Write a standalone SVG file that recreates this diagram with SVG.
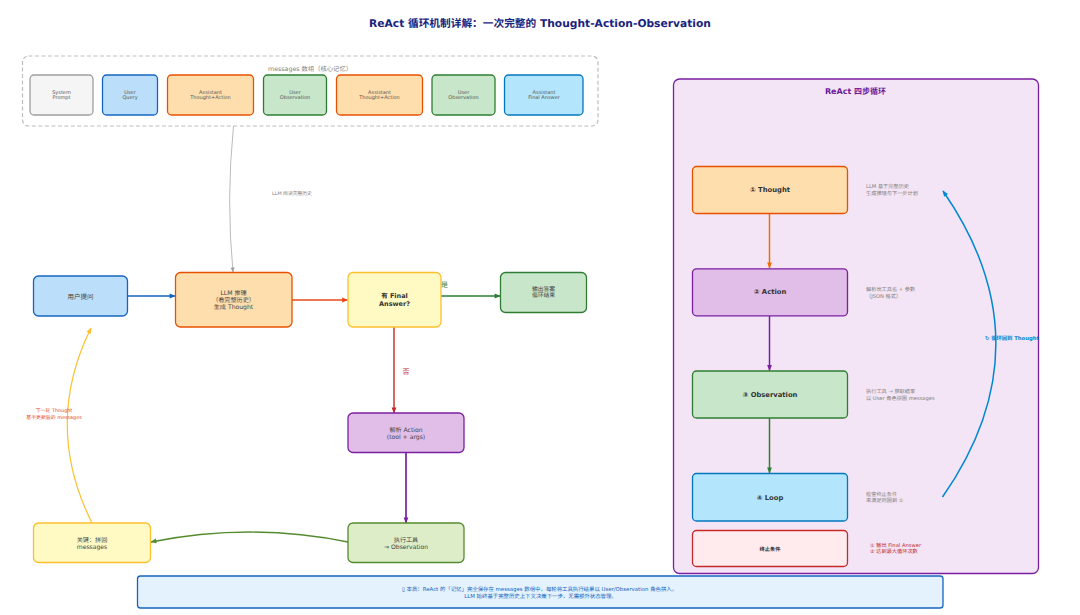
<svg xmlns="http://www.w3.org/2000/svg" width="1080" height="615" viewBox="0 0 1080 615">
<style>
text{font-family:"DejaVu Sans","Noto Sans CJK SC",sans-serif;text-anchor:middle;fill:#333;text-rendering:geometricPrecision}
.n rect{stroke-width:1.3}
.m text{font-size:5px;fill:#555}
.main text{font-size:6.1px;fill:#444}
.step text{font-size:6.8px;font-weight:bold}
.d{font-size:5.2px;fill:#808080;text-anchor:start}
.c path{fill:none}
.or{fill:#ffdead;stroke:#e65100}
.pu{fill:#e1bee7;stroke:#7b1fa2}
.gr{fill:#c8e6c9;stroke:#2e7d32}
.bl{fill:#bbdefb;stroke:#1565c0}
.lb{fill:#b3e5fc;stroke:#0277bd}
.ye{fill:#fff9c4;stroke:#fbc02d}
</style>
<defs>
<marker id="a1" viewBox="0 0 10 10" refX="9" refY="5" markerWidth="7" markerHeight="6" markerUnits="userSpaceOnUse" orient="auto"><path d="M0 1L10 5L0 9z" fill="#1565c0"/></marker>
<marker id="a2" viewBox="0 0 10 10" refX="9" refY="5" markerWidth="7" markerHeight="6" markerUnits="userSpaceOnUse" orient="auto"><path d="M0 1L10 5L0 9z" fill="#e64a19"/></marker>
<marker id="a3" viewBox="0 0 10 10" refX="9" refY="5" markerWidth="7" markerHeight="6" markerUnits="userSpaceOnUse" orient="auto"><path d="M0 1L10 5L0 9z" fill="#2e7d32"/></marker>
<marker id="a4" viewBox="0 0 10 10" refX="9" refY="5" markerWidth="7" markerHeight="6" markerUnits="userSpaceOnUse" orient="auto"><path d="M0 1L10 5L0 9z" fill="#c62828"/></marker>
<marker id="a5" viewBox="0 0 10 10" refX="9" refY="5" markerWidth="7" markerHeight="6" markerUnits="userSpaceOnUse" orient="auto"><path d="M0 1L10 5L0 9z" fill="#7b1fa2"/></marker>
<marker id="a6" viewBox="0 0 10 10" refX="9" refY="5" markerWidth="7" markerHeight="6" markerUnits="userSpaceOnUse" orient="auto"><path d="M0 1L10 5L0 9z" fill="#558b2f"/></marker>
<marker id="a7" viewBox="0 0 10 10" refX="9" refY="5" markerWidth="7" markerHeight="6" markerUnits="userSpaceOnUse" orient="auto"><path d="M0 1L10 5L0 9z" fill="#fbc02d"/></marker>
<marker id="a8" viewBox="0 0 10 10" refX="9" refY="5" markerWidth="7" markerHeight="6" markerUnits="userSpaceOnUse" orient="auto"><path d="M0 1L10 5L0 9z" fill="#0288d1"/></marker>
<marker id="a9" viewBox="0 0 10 10" refX="9" refY="5" markerWidth="6" markerHeight="5" markerUnits="userSpaceOnUse" orient="auto"><path d="M0 1L10 5L0 9z" fill="#9e9e9e"/></marker>
<marker id="a10" viewBox="0 0 10 10" refX="9" refY="5" markerWidth="7" markerHeight="6" markerUnits="userSpaceOnUse" orient="auto"><path d="M0 1L10 5L0 9z" fill="#ef6c00"/></marker>
</defs>
<rect width="1080" height="615" fill="#fff"/>
<text x="540" y="26.5" style="font-size:10.7px;font-weight:bold;fill:#1a237e">ReAct 循环机制详解：一次完整的 Thought-Action-Observation</text>

<g id="messages" class="n">
<rect x="22.5" y="56" width="575.5" height="70" rx="6" fill="#fff" stroke="#bdbdbd" stroke-dasharray="4 2.5" style="stroke-width:1.2"/>
<text x="310" y="70.5" style="font-size:6.3px;fill:#808080">messages 数组（核心记忆）</text>
</g>
<g id="msg1" class="n m"><rect x="30" y="75" width="63" height="40" rx="4" fill="#f5f5f5" stroke="#9e9e9e"/><text x="61.5" y="93.8">System</text><text x="61.5" y="99.3">Prompt</text></g>
<g id="msg2" class="n m"><rect class="bl" x="102.5" y="75" width="55" height="40" rx="4"/><text x="130" y="93.8">User</text><text x="130" y="99.3">Query</text></g>
<g id="msg3" class="n m"><rect class="or" x="167.500" y="75" width="86" height="40" rx="4"/><text x="210.500" y="93.8">Assistant</text><text x="210.500" y="99.3">Thought+Action</text></g>
<g id="msg4" class="n m"><rect class="gr" x="263.500" y="75" width="63" height="40" rx="4"/><text x="295" y="93.8">User</text><text x="295" y="99.3">Observation</text></g>
<g id="msg5" class="n m"><rect class="or" x="336.500" y="75" width="86" height="40" rx="4"/><text x="379.500" y="93.8">Assistant</text><text x="379.500" y="99.3">Thought+Action</text></g>
<g id="msg6" class="n m"><rect class="gr" x="432" y="75" width="63" height="40" rx="4"/><text x="463.500" y="93.8">User</text><text x="463.500" y="99.3">Observation</text></g>
<g id="msg7" class="n m"><rect class="lb" x="504.500" y="75" width="78.500" height="40" rx="4"/><text x="544" y="93.8">Assistant</text><text x="544" y="99.3">Final Answer</text></g>

<g id="panel"><rect x="673.500" y="79" width="365" height="494.500" rx="6" fill="#f3e5f5" stroke="#7b1fa2" stroke-width="1.3"/>
<text x="855.500" y="93.500" style="font-size:8px;font-weight:bold;fill:#6a1b9a">ReAct 四步循环</text></g>

<g id="connectors" class="c">
<path d="M233.500 126Q226 200 233 272" stroke="#9e9e9e" stroke-width=".7" marker-end="url(#a9)"/>
<path d="M127.500 296H175" stroke="#1565c0" stroke-width="1.7" marker-end="url(#a1)"/>
<path d="M292 300H347.500" stroke="#e64a19" stroke-width="1.7" marker-end="url(#a2)"/>
<path d="M441 296H500" stroke="#2e7d32" stroke-width="1.7" marker-end="url(#a3)"/>
<path d="M394 327V413" stroke="#c62828" stroke-width="1.4" marker-end="url(#a4)"/>
<path d="M406 452.500V523" stroke="#7b1fa2" stroke-width="1.7" marker-end="url(#a5)"/>
<path d="M348 542Q250 522 151 542" stroke="#558b2f" stroke-width="1.3" marker-end="url(#a6)"/>
<path d="M92 523Q43 425 91 328" stroke="#fbc02d" stroke-width="1.2" marker-end="url(#a7)"/>
<path d="M769.500 213.500V268" stroke="#ef6c00" stroke-width="1.5" marker-end="url(#a10)"/>
<path d="M769.500 316V370.500" stroke="#7b1fa2" stroke-width="1.5" marker-end="url(#a5)"/>
<path d="M769.500 418V473" stroke="#2e7d32" stroke-width="1.5" marker-end="url(#a3)"/>
<path d="M942.500 497Q1049 344 943 191" stroke="#0288d1" stroke-width="1.5" marker-end="url(#a8)"/>
</g>

<g id="user" class="n main"><rect class="bl" x="33.500" y="276" width="94" height="40" rx="5"/><text x="80.500" y="298.500" style="font-size:6.500px">用户提问</text></g>
<g id="llm" class="n main"><rect class="or" x="175.500" y="272.500" width="116.500" height="54.500" rx="5"/><text x="233.500" y="294.500">LLM 推理</text><text x="233.500" y="301.500">（看完整历史）</text><text x="233.500" y="308.700">生成 Thought</text></g>
<g id="decide" class="n main"><rect class="ye" x="348" y="272.500" width="93" height="54.500" rx="5"/><text x="394.500" y="298.200" style="font-size:6.500px;font-weight:bold;fill:#333">有 Final</text><text x="394.500" y="305.700" style="font-size:6.500px;font-weight:bold;fill:#333">Answer?</text></g>
<g id="output" class="n main"><rect class="gr" x="500.500" y="272.500" width="86" height="40" rx="5"/><text x="543.500" y="290.500" style="font-size:5.800px">输出答案</text><text x="543.500" y="297" style="font-size:5.800px">循环结束</text></g>
<g id="action" class="n main"><rect class="pu" x="348" y="413" width="116" height="39.500" rx="5"/><text x="406" y="431.500">解析 Action</text><text x="406" y="438.500">(tool + args)</text></g>
<g id="exec" class="n main"><rect x="348" y="523" width="116" height="39.500" rx="5" fill="#dcedc8" stroke="#558b2f"/><text x="406" y="541.500">执行工具</text><text x="406" y="548.500">→ Observation</text></g>
<g id="key" class="n main"><rect class="ye" x="33.500" y="523" width="117" height="39.500" rx="5"/><text x="92" y="541.500">关键：拼回</text><text x="92" y="548.500">messages</text></g>

<text x="444.500" y="287" style="font-size:7px;fill:#2e7d32">是</text>
<text x="406" y="374" style="font-size:7px;fill:#c62828">否</text>
<text x="292" y="195" style="font-size:4.800px;fill:#808080">LLM 阅读完整历史</text>
<text x="54" y="412" style="font-size:4.900px;fill:#e64a19">下一轮 Thought</text>
<text x="54" y="418.500" style="font-size:4.900px;fill:#e64a19">基于更新后的 messages</text>

<g id="s1" class="n step"><rect class="or" x="692.500" y="166.500" width="155" height="47" rx="4"/><text x="770" y="191.800">① Thought</text></g>
<g id="s2" class="n step"><rect class="pu" x="692.500" y="268.800" width="155" height="47" rx="4"/><text x="770" y="294.200">② Action</text></g>
<g id="s3" class="n step"><rect class="gr" x="692.500" y="371" width="155" height="47" rx="4"/><text x="770" y="396.800">③ Observation</text></g>
<g id="s4" class="n step"><rect class="lb" x="692.500" y="473.500" width="155" height="47.500" rx="4"/><text x="770" y="499.500">④ Loop</text></g>
<g id="stop" class="n"><rect x="692.500" y="530.500" width="155" height="36" rx="4" fill="#ffebee" stroke="#c62828"/><text x="770" y="550.500" style="font-size:5.200px;font-weight:bold">终止条件</text></g>

<text class="d" x="866" y="188">LLM 基于完整历史</text><text class="d" x="866" y="194.500">生成推理与下一步计划</text>
<text class="d" x="866" y="290.500">解析出工具名 + 参数</text><text class="d" x="866" y="297.500">（JSON 格式）</text>
<text class="d" x="866" y="393">执行工具 → 获取结果</text><text class="d" x="866" y="399.500">以 User 角色拼回 messages</text>
<text class="d" x="866" y="495.500">检查终止条件</text><text class="d" x="866" y="502">未满足则回到 ①</text>
<text class="d" x="870" y="547" style="fill:#c62828">① 输出 Final Answer</text><text class="d" x="870" y="552.500" style="fill:#c62828">② 达到最大循环次数</text>
<text x="1012" y="340" style="font-size:5.300px;font-weight:bold;fill:#0288d1">↻ 循环回到 Thought</text>

<g id="summary" class="n"><rect x="137.500" y="576" width="805.500" height="32" rx="3" fill="#e3f2fd" stroke="#1565c0"/>
<text x="539.500" y="591" style="font-size:5.400px;fill:#1565c0">▯ 本质：ReAct 的「记忆」完全保存在 messages 数组中，每轮将工具执行结果以 User/Observation 角色拼入。</text>
<text x="540.500" y="597.500" style="font-size:5.400px;fill:#1565c0">LLM 始终基于完整历史上下文决策下一步，无需额外状态管理。</text></g>
</svg>
